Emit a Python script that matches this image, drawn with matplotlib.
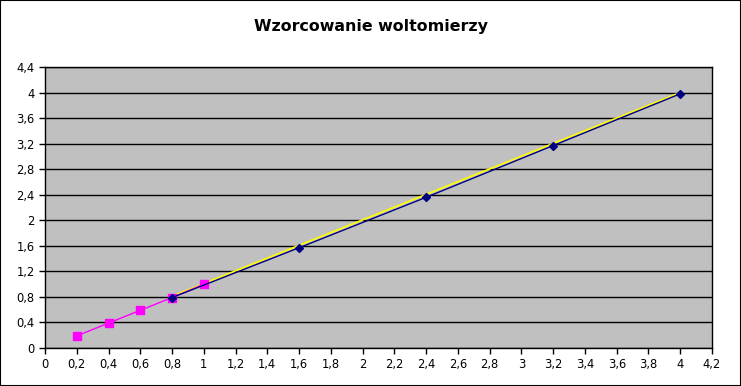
import matplotlib
matplotlib.use("Agg")
import matplotlib.pyplot as plt
from matplotlib.patches import Rectangle

title = "Wzorcowanie woltomierzy"
x_low = [0.2, 0.4, 0.6, 0.8, 1.0]
y_low = [0.19, 0.39, 0.59, 0.79, 1.0]
x_high = [0.8, 1.6, 2.4, 3.2, 4.0]
y_high = [0.79, 1.57, 2.36, 3.17, 3.98]
x_trend = [0.8, 4.0]
y_trend = [0.81, 4.0]
xticks = [i * 0.2 for i in range(22)]
yticks = [i * 0.4 for i in range(12)]

def fmt(v):
    s = f"{v:.1f}"
    if s.endswith(".0"):
        s = s[:-2]
    return s.replace(".", ",")

fig = plt.figure(figsize=(7.41, 3.86), dpi=100)
fig.patches.append(Rectangle((0, 0), 1, 1, transform=fig.transFigure, fill=False,
                             edgecolor="black", linewidth=1.5))
ax = fig.add_axes([45/741, 38/386, 667/741, 281/386])
ax.set_facecolor("#C0C0C0")
ax.set_xlim(0, 4.2)
ax.set_ylim(0, 4.4)
ax.set_xticks(xticks)
ax.set_xticklabels([fmt(v) for v in xticks], fontsize=8.3)
ax.set_yticks(yticks)
ax.set_yticklabels([fmt(v) for v in yticks], fontsize=8.3)
ax.yaxis.grid(True, color="black", linewidth=1)
ax.set_axisbelow(True)
ax.tick_params(direction="out", length=4, width=1, color="black")
for s in ax.spines.values():
    s.set_color("black")
    s.set_linewidth(1)

ax.plot(x_trend, y_trend, color="#FFFF00", linewidth=1.2, zorder=3)
ax.plot(x_low, y_low, color="#FF00FF", linewidth=1, marker="s", markersize=6,
        markerfacecolor="#FF00FF", markeredgecolor="#FF00FF", zorder=4)
ax.plot(x_high, y_high, color="#000080", linewidth=1, marker="D", markersize=4,
        markerfacecolor="#000080", markeredgecolor="#000080", zorder=5)

fig.text(0.5, 1 - 27/386, title, ha="center", va="center", fontsize=11.4,
         fontweight="bold")
fig.savefig("out.png", dpi=100)
